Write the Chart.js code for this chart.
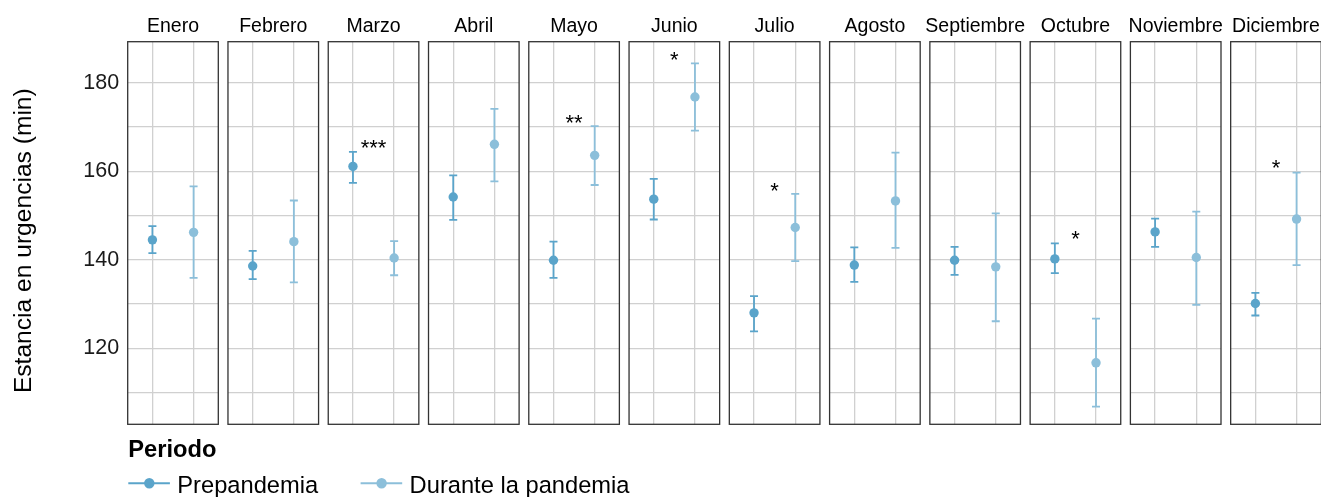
<!DOCTYPE html>
<html>
<head>
<meta charset="utf-8">
<script src="https://cdn.jsdelivr.net/npm/chart.js@4.4.0/dist/chart.umd.min.js"></script>
<style>
  html, body { margin: 0; padding: 0; background: #ffffff; }
  #wrap { position: relative; width: 1321px; height: 497px; overflow: hidden; background: #ffffff; }
  #wrap canvas { position: absolute; }
</style>
</head>
<body>
<div id="wrap"></div>
<script>
// Monthly emergency-department length of stay (minutes): mean with 95% CI
const months = ['Enero', 'Febrero', 'Marzo', 'Abril', 'Mayo', 'Junio', 'Julio',
                'Agosto', 'Septiembre', 'Octubre', 'Noviembre', 'Diciembre'];

const prePandemia     = [144.5, 138.6, 161.1, 154.2, 139.9, 153.7, 128.0, 138.8, 139.9, 140.2, 146.3, 130.1];
const prePandemiaLow  = [141.5, 135.6, 157.4, 149.0, 135.9, 149.1, 123.8, 135.0, 136.6, 137.0, 142.9, 127.4];
const prePandemiaHigh = [147.6, 142.0, 164.4, 159.1, 144.1, 158.3, 131.8, 142.8, 142.9, 143.7, 149.3, 132.5];

const pandemia        = [146.2, 144.1, 140.4, 166.1, 163.6, 176.8, 147.3, 153.3, 138.4, 116.7, 140.5, 149.2];
const pandemiaLow     = [135.9, 134.9, 136.5, 157.7, 156.9, 169.2, 139.7, 142.7, 126.1, 106.8, 129.8, 138.8];
const pandemiaHigh    = [156.6, 153.4, 144.2, 174.1, 170.2, 184.4, 154.9, 164.2, 150.5, 126.7, 150.9, 159.7];

// Significance marks and the value at which each one sits
const sigLabels = ['', '', '***', '', '**', '*', '*', '', '', '*', '', '*'];
const sigValues = [null, null, 166.5, null, 172.2, 186.4, 156.9, null, null, 145.9, null, 161.9];

const yTicks = [120, 140, 160, 180];
const seriesNames = ['Prepandemia', 'Durante la pandemia'];
const legendTitle = 'Periodo';
const yAxisTitle = 'Estancia en urgencias (min)';

// Styling and layout
const FONT = "'Liberation Sans', Arial, Helvetica, sans-serif";
const PRE_COLOR = '#5AA4CA';
const PAN_COLOR = '#8CBFDA';
const GRID_COLOR = '#d0d0d0';
const Y_MIN = 102.8, Y_MAX = 189.3;
const PANEL_LEFT = 127.7, PANEL_PITCH = 100.27, PANEL_WIDTH = 90.6;
const PANEL_TOP = 41.7, PANEL_BOTTOM = 424.3, CANVAS_H = 426;

const wrap = document.getElementById('wrap');
function makeCanvas(left, top, w, h) {
  const c = document.createElement('canvas');
  c.width = w; c.height = h;
  c.style.left = left + 'px'; c.style.top = top + 'px';
  c.style.width = w + 'px'; c.style.height = h + 'px';
  wrap.appendChild(c);
  return c;
}

// Vertical CI whiskers with caps, drawn under the points
const errorBars = {
  id: 'errorBars',
  beforeDatasetsDraw(chart) {
    const { ctx, scales: { x, y } } = chart;
    chart.data.datasets.forEach(ds => {
      ds.data.forEach(pt => {
        const px = x.getPixelForValue(pt.x);
        const yl = y.getPixelForValue(pt.low);
        const yh = y.getPixelForValue(pt.high);
        ctx.save();
        ctx.strokeStyle = ds.borderColor;
        ctx.lineWidth = 1.8;
        ctx.beginPath();
        ctx.moveTo(px, yl); ctx.lineTo(px, yh);
        ctx.moveTo(px - 4, yl); ctx.lineTo(px + 4, yl);
        ctx.moveTo(px - 4, yh); ctx.lineTo(px + 4, yh);
        ctx.stroke();
        ctx.restore();
      });
    });
  }
};

// Panel box, strip label and significance stars
const panelFrame = {
  id: 'panelFrame',
  afterDraw(chart, args, opts) {
    const { ctx, chartArea: a, scales: { x, y } } = chart;
    ctx.save();
    ctx.strokeStyle = '#333333';
    ctx.lineWidth = 1.3;
    ctx.strokeRect(a.left, a.top, a.right - a.left, a.bottom - a.top);
    ctx.fillStyle = '#000000';
    ctx.font = '19.5px ' + FONT;
    ctx.textAlign = 'center';
    ctx.textBaseline = 'alphabetic';
    ctx.fillText(opts.title, (a.left + a.right) / 2, 31.7);
    if (opts.sig) {
      ctx.font = '22px ' + FONT;
      ctx.fillText(opts.sig, x.getPixelForValue(1.5), y.getPixelForValue(opts.sigValue) + 12.6);
    }
    ctx.restore();
  }
};

// Rotated y-axis title on the first panel
const yTitle = {
  id: 'yTitle',
  afterDraw(chart) {
    const { ctx } = chart;
    ctx.save();
    ctx.translate(30.8, 240.7);
    ctx.rotate(-Math.PI / 2);
    ctx.fillStyle = '#000000';
    ctx.font = '24.6px ' + FONT;
    ctx.textAlign = 'center';
    ctx.textBaseline = 'alphabetic';
    ctx.fillText(yAxisTitle, 0, 0);
    ctx.restore();
  }
};

months.forEach((month, i) => {
  const areaLeft = PANEL_LEFT + PANEL_PITCH * i;
  const first = i === 0;
  const canvasLeft = first ? 0 : Math.floor(areaLeft) - 5;
  const canvasW = Math.ceil(areaLeft + PANEL_WIDTH) + 5 - canvasLeft;
  const padLeft = first ? 0 : areaLeft - canvasLeft;
  const padRight = canvasLeft + canvasW - (areaLeft + PANEL_WIDTH);
  const canvas = makeCanvas(canvasLeft, 0, canvasW, CANVAS_H);

  new Chart(canvas, {
    type: 'scatter',
    data: {
      datasets: [
        {
          label: seriesNames[0],
          data: [{ x: 1, y: prePandemia[i], low: prePandemiaLow[i], high: prePandemiaHigh[i] }],
          backgroundColor: PRE_COLOR, borderColor: PRE_COLOR,
          pointRadius: 4.7, pointBorderWidth: 0, pointHoverRadius: 4.7
        },
        {
          label: seriesNames[1],
          data: [{ x: 2, y: pandemia[i], low: pandemiaLow[i], high: pandemiaHigh[i] }],
          backgroundColor: PAN_COLOR, borderColor: PAN_COLOR,
          pointRadius: 4.7, pointBorderWidth: 0, pointHoverRadius: 4.7
        }
      ]
    },
    options: {
      responsive: false,
      animation: false,
      events: [],
      layout: {
        autoPadding: false,
        padding: { left: padLeft, right: padRight, top: PANEL_TOP, bottom: CANVAS_H - PANEL_BOTTOM }
      },
      scales: {
        x: {
          type: 'linear', position: 'top', min: 0.4, max: 2.6,
          afterBuildTicks(scale) { scale.ticks = [{ value: 1 }, { value: 2 }]; },
          afterFit(scale) { scale.height = 0; scale.paddingLeft = 0; scale.paddingRight = 0; },
          ticks: { display: false },
          border: { display: false },
          grid: { color: GRID_COLOR, lineWidth: 1.3, drawTicks: false }
        },
        y: {
          type: 'linear', min: Y_MIN, max: Y_MAX,
          afterFit(scale) {
            scale.width = first ? PANEL_LEFT : 0;
            scale.paddingTop = 0;
            scale.paddingBottom = 0;
          },
          border: { display: false },
          grid: { color: GRID_COLOR, lineWidth: 1.3, drawTicks: false },
          ticks: {
            display: first,
            stepSize: 10,
            includeBounds: false,
            autoSkip: false,
            padding: 8.5,
            color: '#1a1a1a',
            font: { family: FONT, size: 21.5 },
            callback: v => (yTicks.includes(v) ? String(v) : '')
          }
        }
      },
      plugins: {
        legend: { display: false },
        tooltip: { enabled: false },
        panelFrame: { title: month, sig: sigLabels[i], sigValue: sigValues[i] }
      }
    },
    plugins: first ? [errorBars, panelFrame, yTitle] : [errorBars, panelFrame]
  });
});

// Legend: point-and-line keys for the two periods
const legendKeys = {
  id: 'legendKeys',
  afterDraw(chart) {
    const { ctx } = chart;
    ctx.save();
    ctx.fillStyle = '#000000';
    ctx.textAlign = 'left';
    ctx.textBaseline = 'alphabetic';
    ctx.font = 'bold 23.7px ' + FONT;
    ctx.fillText(legendTitle, 128.3, 26.7);
    ctx.font = '23.7px ' + FONT;
    let x = 128.3;
    chart.data.datasets.forEach(ds => {
      ctx.strokeStyle = ds.borderColor;
      ctx.lineWidth = 2;
      ctx.beginPath();
      ctx.moveTo(x, 53.3); ctx.lineTo(x + 41.6, 53.3);
      ctx.stroke();
      ctx.fillStyle = ds.backgroundColor;
      ctx.beginPath();
      ctx.arc(x + 21, 53.3, 5.2, 0, Math.PI * 2);
      ctx.fill();
      ctx.fillStyle = '#000000';
      const tx = x + 49;
      ctx.fillText(ds.label, tx, 63.3);
      x = tx + ctx.measureText(ds.label).width + 42.4;
    });
    ctx.restore();
  }
};

new Chart(makeCanvas(0, 430, 700, 67), {
  type: 'scatter',
  data: {
    datasets: [
      { label: seriesNames[0], data: [], backgroundColor: PRE_COLOR, borderColor: PRE_COLOR },
      { label: seriesNames[1], data: [], backgroundColor: PAN_COLOR, borderColor: PAN_COLOR }
    ]
  },
  options: {
    responsive: false,
    animation: false,
    events: [],
    layout: { autoPadding: false },
    scales: { x: { display: false }, y: { display: false } },
    plugins: { legend: { display: false }, tooltip: { enabled: false } }
  },
  plugins: [legendKeys]
});
</script>
</body>
</html>
